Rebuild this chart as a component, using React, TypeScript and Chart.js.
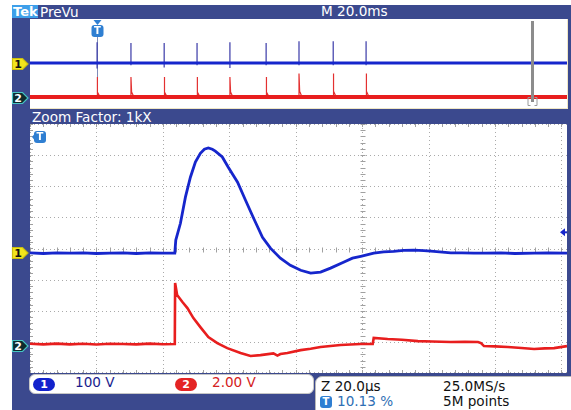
import React, { useEffect, useRef } from "react";
import { Chart, registerables } from "chart.js";

Chart.register(...registerables);

// ---------- Zoom window (20 µs/div), time in µs from the left edge ----------
const mainTimeMax = 161.7;
const mainTimePerDiv = 20;

const ch1Time = [0, 4, 8, 12, 16, 20, 24, 28, 32, 36, 40, 43.6, 43.9, 45.3, 46.8, 48.3, 49.8, 51.3, 52.5, 53.7, 54.9, 55.8, 57.9, 59.7, 62.5, 64.9, 67.3, 70.0, 72.4, 75.4, 78.4, 81.5, 84.5, 87.5, 90.5, 94.4, 97.1, 99.6, 103.5, 106.5, 109.5, 112.5, 115.6, 118.6, 121.6, 126.7, 130, 133.7, 137, 141.8, 146, 151.8, 156, 161.7];
const ch1Volts = [1, -1, 1, 0, 1, -1, 0, 1, -1, 1, 0, 0, 42, 96, 180, 244, 293, 321, 334, 338, 334, 328, 309, 276, 228, 170, 113, 51, 16, -16, -39, -55, -64, -61, -48, -29, -16, -10, 0, 4, 6, 9, 10, 8, 6, 1, 1, 0, 0, 1, -1, 0, 1, 0];

const ch2Time = [0, 4, 8, 12, 16, 20, 24, 28, 32, 36, 40, 43.6, 43.7, 44.05, 44.3, 45.9, 47.4, 49.2, 51.3, 53.7, 56.4, 59.4, 63.4, 66.4, 69.4, 73.3, 74.5, 75.4, 77.5, 81.5, 84.5, 87.5, 90.5, 93.5, 96.5, 99.6, 103.2, 103.5, 107.7, 112, 116.8, 121, 126.7, 131, 134.9, 135.8, 136.7, 140, 143.9, 148, 151.8, 155, 157.8, 161.7];
const ch2Volts = [0.02, -0.02, 0.03, -0.02, 0.02, -0.03, 0.02, 0, -0.02, 0.03, -0.01, 0, 3.92, 3.47, 3.15, 2.7, 2.31, 1.67, 1.09, 0.45, 0.06, -0.26, -0.58, -0.77, -0.71, -0.6, -0.74, -0.64, -0.58, -0.39, -0.3, -0.19, -0.12, -0.06, -0.03, 0, 0, 0.39, 0.32, 0.28, 0.19, 0.16, 0.13, 0.14, 0.13, 0.06, -0.13, -0.15, -0.19, -0.25, -0.32, -0.28, -0.26, -0.13];

const ch1VoltsPerDiv = 100;
const ch2VoltsPerDiv = 2;
const ch1OffsetDiv = -0.15;
const ch2OffsetDiv = -3.07;

// ---------- Record overview (20 ms/div), time in ms ----------
const overviewTimeMax = 161.7;
const pulseTimes = [20.2, 30.4, 40.4, 50.3, 60.2, 71.1, 81.0, 91.3, 101.2];
const ch1PulsePeaks = [185, 180, 180, 180, 185, 180, 195, 195, 195];
const ch1PulseDips = [-50, -20, -40, -20, -45, -20, -20, -20, -20];
const ch2PulsePeaks = [3.6, 3.6, 3.6, 3.6, 3.6, 3.6, 4.2, 4.2, 4.2];
const ovCh1OffsetDiv = 0.05;
const ovCh2OffsetDiv = -3.01;
const zoomMarkerTime = 151.2;

const FRAME = "#3b498e";
const BLUE = "#1626cc";
const RED = "#e81e1e";
const FONT = '"DejaVu Sans", sans-serif';

type P = { x: number; y: number | null };

function toPts(t: number[], v: number[], vpd: number, off: number): P[] {
  return t.map((tt, i) => ({ x: tt, y: off + v[i] / vpd }));
}

function baseOptions(xMax: number): any {
  return {
    responsive: false,
    animation: false,
    events: [],
    layout: { padding: 0 },
    plugins: { legend: { display: false }, tooltip: { enabled: false } },
    elements: { point: { radius: 0 }, line: { tension: 0 } },
    scales: {
      x: { type: "linear", min: 0, max: xMax, display: false },
      y: { type: "linear", min: -4, max: 4, display: false },
    },
  };
}

function seg(ctx: CanvasRenderingContext2D, x1: number, y1: number, x2: number, y2: number) {
  ctx.beginPath();
  ctx.moveTo(x1, y1);
  ctx.lineTo(x2, y2);
  ctx.stroke();
}

function badgeT(ctx: CanvasRenderingContext2D, cx: number, cy: number) {
  ctx.fillStyle = "#2f7fd2";
  const w = 12, h = 12, r = 3;
  const x = cx - w / 2, y = cy - h / 2;
  ctx.beginPath();
  ctx.moveTo(x + r, y);
  ctx.lineTo(x + w - r, y);
  ctx.quadraticCurveTo(x + w, y, x + w, y + r);
  ctx.lineTo(x + w, y + h - r);
  ctx.quadraticCurveTo(x + w, y + h, x + w - r, y + h);
  ctx.lineTo(x + r, y + h);
  ctx.quadraticCurveTo(x, y + h, x, y + h - r);
  ctx.lineTo(x, y + r);
  ctx.quadraticCurveTo(x, y, x + r, y);
  ctx.fill();
  ctx.fillStyle = "#fff";
  ctx.font = "bold 10px " + FONT;
  ctx.textAlign = "center";
  ctx.textBaseline = "middle";
  ctx.fillText("T", cx, cy + 0.5);
}

const mainGridPlugin = {
  id: "scopeGrid",
  beforeDatasetsDraw(chart: any) {
    const { ctx, chartArea: a, scales } = chart;
    const x = scales.x, y = scales.y;
    ctx.save();
    ctx.lineWidth = 1;
    ctx.strokeStyle = "#aaaaaa";
    ctx.setLineDash([1, 3]);
    for (let t = mainTimePerDiv; t < mainTimeMax; t += mainTimePerDiv) {
      const px = Math.round(x.getPixelForValue(t)) + 0.5;
      seg(ctx, px, a.top, px, a.bottom);
    }
    for (let d = -3; d <= 3; d++) {
      const py = Math.round(y.getPixelForValue(d)) + 0.5;
      seg(ctx, a.left, py, a.right, py);
    }
    seg(ctx, a.left + 0.5, a.top, a.left + 0.5, a.bottom);
    seg(ctx, a.left, a.top + 0.5, a.right, a.top + 0.5);
    seg(ctx, a.left, a.bottom - 0.5, a.right, a.bottom - 0.5);
    ctx.setLineDash([]);
    ctx.strokeStyle = "#a0a0a0";
    const cx = Math.round(x.getPixelForValue(5 * mainTimePerDiv)) + 0.5;
    const cy = Math.round(y.getPixelForValue(0)) + 0.5;
    for (let t = 0; t <= mainTimeMax; t += mainTimePerDiv / 5) {
      const px = Math.round(x.getPixelForValue(t)) + 0.5;
      seg(ctx, px, cy - 2, px, cy + 3);
      seg(ctx, px, a.top, px, a.top + 3);
      seg(ctx, px, a.bottom - 3, px, a.bottom);
    }
    for (let d = -4; d <= 4.001; d += 0.2) {
      const py = Math.round(y.getPixelForValue(d)) + 0.5;
      seg(ctx, cx - 2, py, cx + 3, py);
      seg(ctx, a.left, py, a.left + 3, py);
    }
    ctx.restore();
  },
  afterDatasetsDraw(chart: any) {
    const { ctx, chartArea: a, scales } = chart;
    ctx.save();
    const bx = a.left + 10, by = a.top + 13;
    ctx.fillStyle = "#2f7fd2";
    ctx.beginPath();
    ctx.moveTo(bx - 8, by);
    ctx.lineTo(bx - 4, by - 5);
    ctx.lineTo(bx - 4, by + 5);
    ctx.closePath();
    ctx.fill();
    badgeT(ctx, bx, by);
    const ly = scales.y.getPixelForValue(0.52);
    ctx.fillStyle = BLUE;
    ctx.strokeStyle = BLUE;
    ctx.lineWidth = 2;
    ctx.beginPath();
    ctx.moveTo(a.right - 7, ly);
    ctx.lineTo(a.right - 2, ly - 4);
    ctx.lineTo(a.right - 2, ly + 4);
    ctx.closePath();
    ctx.fill();
    seg(ctx, a.right - 3, ly, a.right, ly);
    ctx.restore();
  },
};

const overviewPlugin = {
  id: "overviewMarks",
  beforeDatasetsDraw(chart: any) {
    const { ctx, chartArea: a, scales } = chart;
    ctx.save();
    const tx = Math.round(scales.x.getPixelForValue(pulseTimes[0])) + 0.5;
    ctx.strokeStyle = "#7f8bb8";
    ctx.lineWidth = 1;
    seg(ctx, tx, a.top + 16, tx, scales.y.getPixelForValue(ovCh2OffsetDiv));
    ctx.restore();
  },
  afterDatasetsDraw(chart: any) {
    const { ctx, chartArea: a, scales } = chart;
    ctx.save();
    const tx = Math.round(scales.x.getPixelForValue(pulseTimes[0])) + 0.5;
    ctx.fillStyle = "#2f7fd2";
    ctx.beginPath();
    ctx.moveTo(tx - 4, a.top + 1);
    ctx.lineTo(tx + 4, a.top + 1);
    ctx.lineTo(tx, a.top + 6);
    ctx.closePath();
    ctx.fill();
    badgeT(ctx, tx, a.top + 12);
    const zx = Math.round(scales.x.getPixelForValue(zoomMarkerTime)) + 0.5;
    ctx.strokeStyle = "#8c8c8c";
    ctx.lineWidth = 3;
    seg(ctx, zx, a.top + 2, zx, a.bottom - 6);
    ctx.lineWidth = 1;
    ctx.strokeStyle = "#9a9a9a";
    ctx.beginPath();
    ctx.moveTo(zx - 2, a.bottom - 10.5);
    ctx.lineTo(zx - 4.5, a.bottom - 10.5);
    ctx.lineTo(zx - 4.5, a.bottom - 2.5);
    ctx.lineTo(zx - 2, a.bottom - 2.5);
    ctx.moveTo(zx + 2, a.bottom - 10.5);
    ctx.lineTo(zx + 4.5, a.bottom - 10.5);
    ctx.lineTo(zx + 4.5, a.bottom - 2.5);
    ctx.lineTo(zx + 2, a.bottom - 2.5);
    ctx.stroke();
    ctx.restore();
  },
};

function ChMarker(props: { cy: number; label: string; fill: string; stroke: string; color: string }) {
  const { cy, label, fill, stroke, color } = props;
  return (
    <svg style={{ position: "absolute", left: 11, top: cy - 7 }} width={19} height={14}>
      <path d="M1.5 1.5 H11.5 L17 7 L11.5 12.5 H1.5 Z" fill={fill} stroke={stroke} strokeWidth={1.2} />
      <text x={7} y={11} fontFamily={FONT} fontWeight="bold" fontSize={11} textAnchor="middle" fill={color}>
        {label}
      </text>
    </svg>
  );
}

function Txt(props: { left: number; top: number; color: string; children: any; size?: number; bold?: boolean }) {
  return (
    <div
      style={{
        position: "absolute",
        left: props.left,
        top: props.top,
        color: props.color,
        fontFamily: FONT,
        fontSize: props.size || 13.6,
        fontWeight: props.bold ? "bold" : "normal",
        lineHeight: "15px",
        whiteSpace: "nowrap",
      }}
    >
      {props.children}
    </div>
  );
}

export default function App() {
  const mainRef = useRef<HTMLCanvasElement | null>(null);
  const ovRef = useRef<HTMLCanvasElement | null>(null);

  useEffect(() => {
    const mainChart = new Chart(mainRef.current as HTMLCanvasElement, {
      type: "line",
      data: {
        datasets: [
          {
            data: toPts(ch2Time, ch2Volts, ch2VoltsPerDiv, ch2OffsetDiv) as any,
            borderColor: RED,
            borderWidth: 2.6,
            pointRadius: 0,
          },
          {
            data: toPts(ch1Time, ch1Volts, ch1VoltsPerDiv, ch1OffsetDiv) as any,
            borderColor: BLUE,
            borderWidth: 2.8,
            pointRadius: 0,
          },
        ],
      },
      options: baseOptions(mainTimeMax),
      plugins: [mainGridPlugin],
    });

    const ch1Spikes: P[] = [];
    const ch2Spikes: P[] = [];
    pulseTimes.forEach((t, i) => {
      ch1Spikes.push({ x: t, y: ovCh1OffsetDiv + ch1PulseDips[i] / ch1VoltsPerDiv });
      ch1Spikes.push({ x: t, y: ovCh1OffsetDiv + ch1PulsePeaks[i] / ch1VoltsPerDiv });
      ch1Spikes.push({ x: t, y: null });
      ch2Spikes.push({ x: t, y: ovCh2OffsetDiv });
      ch2Spikes.push({ x: t, y: ovCh2OffsetDiv + ch2PulsePeaks[i] / ch2VoltsPerDiv });
      ch2Spikes.push({ x: t + 0.2, y: ovCh2OffsetDiv + (ch2PulsePeaks[i] * 0.25) / ch2VoltsPerDiv });
      ch2Spikes.push({ x: t + 0.9, y: ovCh2OffsetDiv });
      ch2Spikes.push({ x: t + 0.9, y: null });
    });

    const ovChart = new Chart(ovRef.current as HTMLCanvasElement, {
      type: "line",
      data: {
        datasets: [
          {
            data: [
              { x: 0, y: ovCh2OffsetDiv },
              { x: overviewTimeMax, y: ovCh2OffsetDiv },
            ] as any,
            borderColor: RED,
            borderWidth: 4,
            pointRadius: 0,
          },
          {
            data: ch2Spikes as any,
            borderColor: "#e33030",
            borderWidth: 1.2,
            pointRadius: 0,
            spanGaps: false,
          },
          {
            data: [
              { x: 0, y: ovCh1OffsetDiv },
              { x: overviewTimeMax, y: ovCh1OffsetDiv },
            ] as any,
            borderColor: BLUE,
            borderWidth: 3,
            pointRadius: 0,
          },
          {
            data: ch1Spikes as any,
            borderColor: "#3a3aa8",
            borderWidth: 1.2,
            pointRadius: 0,
            spanGaps: false,
          },
        ],
      },
      options: baseOptions(overviewTimeMax),
      plugins: [overviewPlugin],
    });

    return () => {
      mainChart.destroy();
      ovChart.destroy();
    };
  }, []);

  return (
    <div
      style={{
        position: "absolute",
        left: 0,
        top: 0,
        width: 571,
        height: 410,
        background: "#fff",
        overflow: "hidden",
        fontFamily: FONT,
      }}
    >
      <div style={{ position: "absolute", left: 12, top: 5, width: 559, height: 405, background: FRAME }} />
      <div style={{ position: "absolute", left: 12, top: 5, width: 26, height: 13, background: "#3d9fea" }} />
      <Txt left={13} top={3.5} color="#fff" bold size={13}>
        Tek
      </Txt>
      <Txt left={40} top={4.5} color="#fff">
        PreVu
      </Txt>
      <Txt left={321} top={4} color="#fff">
        M 20.0ms
      </Txt>

      <div style={{ position: "absolute", left: 30, top: 19, width: 538, height: 90, background: "#efe6c6" }} />
      <canvas
        ref={ovRef}
        width={537}
        height={89}
        style={{ position: "absolute", left: 30, top: 19, width: 537, height: 89, background: "#fff", display: "block" }}
      />
      <ChMarker cy={64} label="1" fill="#f2e41c" stroke="#c9bd10" color="#111" />
      <ChMarker cy={98} label="2" fill="#0e2b2e" stroke="#46c4c4" color="#fff" />

      <Txt left={32} top={110} color="#fff">
        Zoom Factor: 1kX
      </Txt>

      <canvas
        ref={mainRef}
        width={537}
        height={249}
        style={{ position: "absolute", left: 30, top: 124, width: 537, height: 249, background: "#fff", display: "block" }}
      />
      <ChMarker cy={253} label="1" fill="#f2e41c" stroke="#c9bd10" color="#111" />
      <ChMarker cy={346} label="2" fill="#0e2b2e" stroke="#46c4c4" color="#fff" />

      <div
        style={{
          position: "absolute",
          left: 29,
          top: 374,
          width: 283,
          height: 18,
          background: "#fff",
          border: "1px solid #c6c6c6",
          borderRadius: 6,
        }}
      />
      <div
        style={{
          position: "absolute",
          left: 33,
          top: 378,
          width: 22,
          height: 13,
          borderRadius: 7,
          background: "#1222cc",
          color: "#fff",
          fontFamily: FONT,
          fontSize: 11,
          fontWeight: "bold",
          lineHeight: "13px",
          textAlign: "center",
        }}
      >
        1
      </div>
      <Txt left={75} top={375} color="#1a1d8e">
        100 V
      </Txt>
      <div
        style={{
          position: "absolute",
          left: 175,
          top: 378,
          width: 22,
          height: 13,
          borderRadius: 7,
          background: "#e42424",
          color: "#fff",
          fontFamily: FONT,
          fontSize: 11,
          fontWeight: "bold",
          lineHeight: "13px",
          textAlign: "center",
        }}
      >
        2
      </div>
      <Txt left={212} top={375} color="#d42222">
        2.00 V
      </Txt>

      <div
        style={{
          position: "absolute",
          left: 315,
          top: 376,
          width: 270,
          height: 50,
          background: "#fff",
          border: "1px solid #b8b8b8",
          borderRadius: "7px 0 0 0",
        }}
      />
      <Txt left={321} top={379} color="#111">
        Z 20.0µs
      </Txt>
      <Txt left={443} top={379} color="#111">
        25.0MS/s
      </Txt>
      <div
        style={{
          position: "absolute",
          left: 320,
          top: 396,
          width: 12,
          height: 12,
          borderRadius: 3,
          background: "#2f7fd2",
          color: "#fff",
          fontFamily: FONT,
          fontSize: 10,
          fontWeight: "bold",
          lineHeight: "12px",
          textAlign: "center",
        }}
      >
        T
      </div>
      <Txt left={337} top={394} color="#2f6fb5">
        10.13 %
      </Txt>
      <Txt left={443} top={394} color="#111">
        5M points
      </Txt>
    </div>
  );
}
